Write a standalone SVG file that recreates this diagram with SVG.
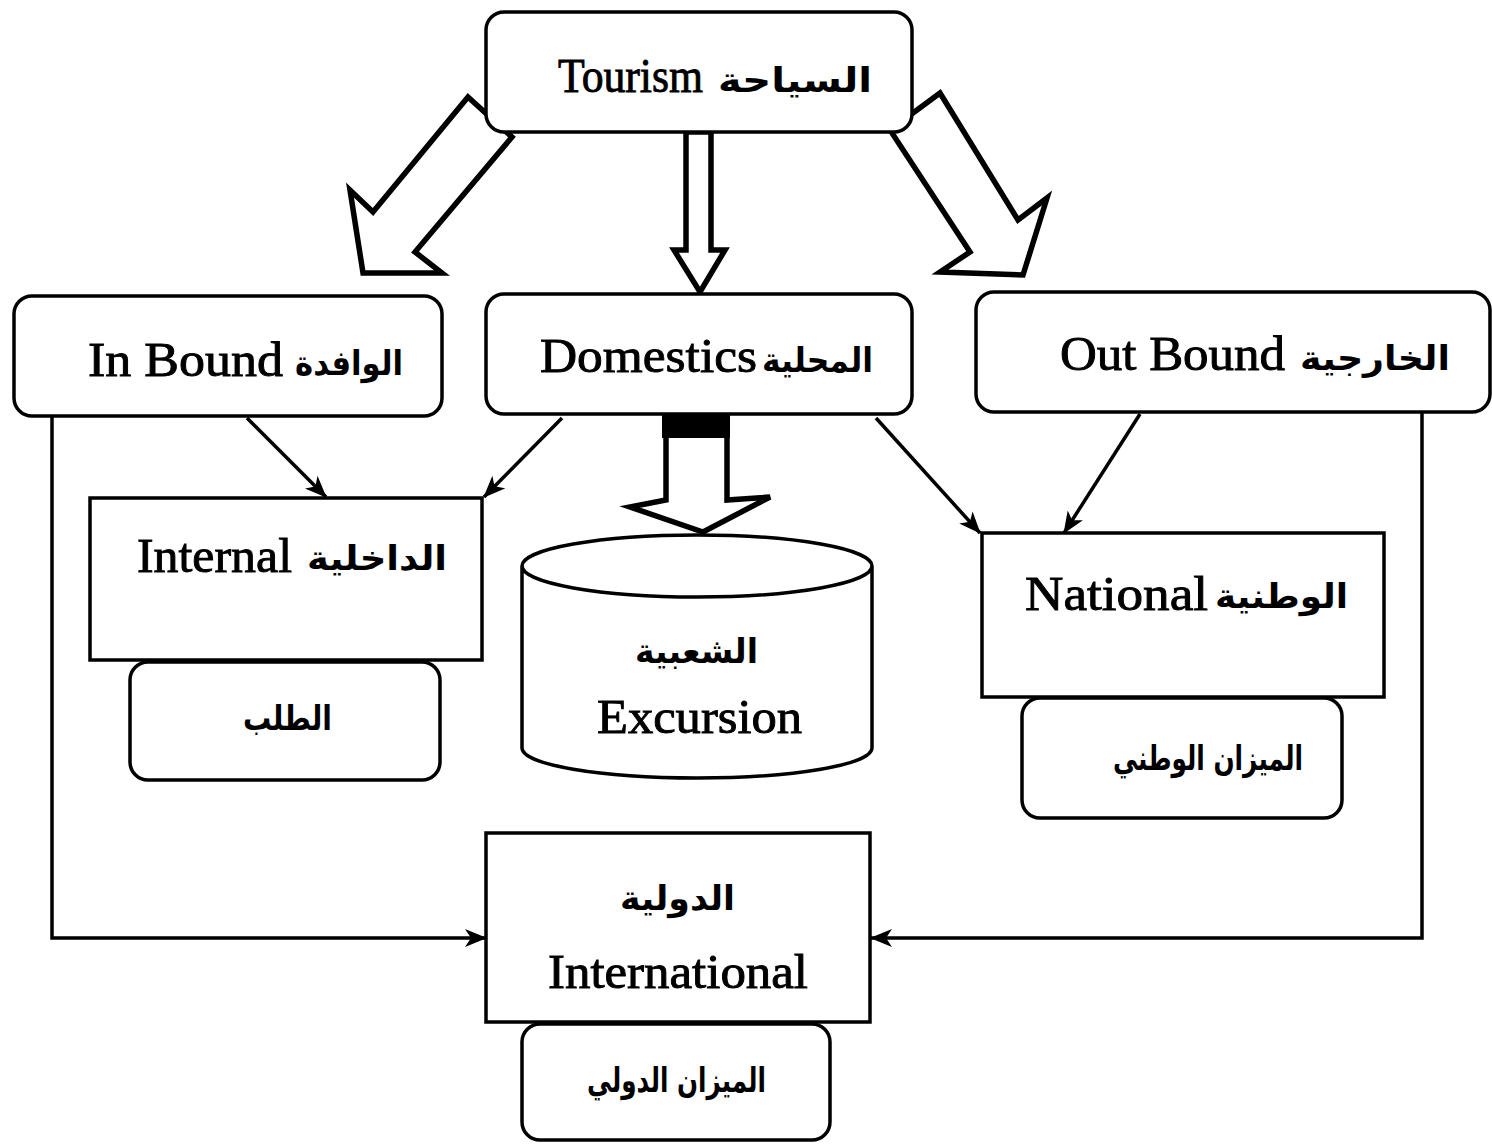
<svg xmlns="http://www.w3.org/2000/svg" width="1492" height="1144" viewBox="0 0 1492 1144">
  <defs>
    <style>
      .box { fill: #fff; stroke: #000; stroke-width: 3.5; }
      .block { fill: #fff; stroke: #000; stroke-width: 5.5; stroke-linejoin: miter; }
      .line { fill: none; stroke: #000; stroke-width: 3.5; }
      .en { font-family: "Liberation Serif", "Times New Roman", serif; font-size: 48px; fill: #000; stroke: #000; stroke-width: 0.9; }
      .ar { font-family: "DejaVu Sans", "Noto Sans", sans-serif; font-weight: bold; font-size: 34px; fill: #000; }
    </style>
    <marker id="tip" viewBox="0 0 22 18" refX="21" refY="9" markerWidth="22" markerHeight="18" markerUnits="userSpaceOnUse" orient="auto">
      <path d="M0,0 L22,9 L0,18 L6,9 Z" fill="#000"/>
    </marker>
  </defs>
  <rect width="1492" height="1144" fill="#fff"/>

  <!-- block arrows and connectors -->
  <g id="connectors">
    <polygon class="block" points="468,97 512,137 415,252 442,273 363,273 350,190 373,212"/>
    <polygon class="block" points="686,132 711,132 711,250 725,250 700,292 674,250 686,250"/>
    <polygon class="block" points="940,93 1018,220 1047,198 1023,275 940,272 970,252 890,130"/>
    <polygon class="block" points="666,414 727,414 727,500 770,497 703,532 630,507 666,500"/>
    <rect x="662" y="412" width="68" height="26" fill="#000"/>

    <line class="line" x1="247" y1="418" x2="326" y2="497" marker-end="url(#tip)"/>
    <line class="line" x1="562" y1="418" x2="484" y2="497" marker-end="url(#tip)"/>
    <line class="line" x1="876" y1="418" x2="980" y2="533" marker-end="url(#tip)"/>
    <line class="line" x1="1140" y1="414" x2="1064" y2="533" marker-end="url(#tip)"/>

    <polyline class="line" points="52,416 52,938 486,938" marker-end="url(#tip)"/>
    <polyline class="line" points="1422,412 1422,938 871,938" marker-end="url(#tip)"/>
  </g>

  <g id="tourism">
    <rect class="box" x="486" y="12" width="426" height="120" rx="18"/>
    <text class="en" x="558" y="92" font-size="44" textLength="145" lengthAdjust="spacingAndGlyphs">Tourism</text>
    <text class="ar" x="718" y="92" textLength="154" lengthAdjust="spacingAndGlyphs">السياحة</text>
  </g>

  <g id="inbound">
    <rect class="box" x="14" y="296" width="428" height="120" rx="18"/>
    <text class="en" x="88" y="376" textLength="195" lengthAdjust="spacingAndGlyphs">In Bound</text>
    <text class="ar" x="295" y="375" textLength="108" lengthAdjust="spacingAndGlyphs">الوافدة</text>
  </g>

  <g id="domestics">
    <rect class="box" x="486" y="294" width="426" height="120" rx="18"/>
    <text class="en" x="540" y="372" textLength="217" lengthAdjust="spacingAndGlyphs">Domestics</text>
    <text class="ar" x="762" y="372" textLength="111" lengthAdjust="spacingAndGlyphs">المحلية</text>
  </g>

  <g id="outbound">
    <rect class="box" x="976" y="292" width="514" height="120" rx="18"/>
    <text class="en" x="1060" y="370" textLength="225" lengthAdjust="spacingAndGlyphs">Out Bound</text>
    <text class="ar" x="1300" y="370" textLength="150" lengthAdjust="spacingAndGlyphs">الخارجية</text>
  </g>

  <g id="internal">
    <rect class="box" x="90" y="498" width="392" height="162"/>
    <text class="en" x="137" y="572" textLength="155" lengthAdjust="spacingAndGlyphs">Internal</text>
    <text class="ar" x="307" y="570" textLength="140" lengthAdjust="spacingAndGlyphs">الداخلية</text>
  </g>

  <g id="demand">
    <rect class="box" x="130" y="662" width="310" height="118" rx="18"/>
    <text class="ar" x="243" y="730" textLength="89" lengthAdjust="spacingAndGlyphs">الطلب</text>
  </g>

  <g id="excursion">
    <path class="box" d="M522,566 L522,748 A175,30 0 0 0 872,748 L872,566 A175,31 0 0 0 522,566 A175,31 0 0 0 872,566"/>
    <text class="ar" x="635" y="663" textLength="123" lengthAdjust="spacingAndGlyphs">الشعبية</text>
    <text class="en" x="597" y="733" textLength="205" lengthAdjust="spacingAndGlyphs">Excursion</text>
  </g>

  <g id="national">
    <rect class="box" x="982" y="533" width="402" height="164"/>
    <text class="en" x="1025" y="610" textLength="183" lengthAdjust="spacingAndGlyphs">National</text>
    <text class="ar" x="1215" y="608" textLength="133" lengthAdjust="spacingAndGlyphs">الوطنية</text>
  </g>

  <g id="national-balance">
    <rect class="box" x="1022" y="698" width="320" height="120" rx="18"/>
    <text class="ar" x="1113" y="770" textLength="190" lengthAdjust="spacingAndGlyphs">الميزان الوطني</text>
  </g>

  <g id="international">
    <rect class="box" x="486" y="833" width="384" height="189"/>
    <text class="ar" x="620" y="910" textLength="115" lengthAdjust="spacingAndGlyphs">الدولية</text>
    <text class="en" x="548" y="988" textLength="260" lengthAdjust="spacingAndGlyphs">International</text>
  </g>

  <g id="international-balance">
    <rect class="box" x="522" y="1024" width="308" height="116" rx="18"/>
    <text class="ar" x="587" y="1092" textLength="179" lengthAdjust="spacingAndGlyphs">الميزان الدولي</text>
  </g>
</svg>
